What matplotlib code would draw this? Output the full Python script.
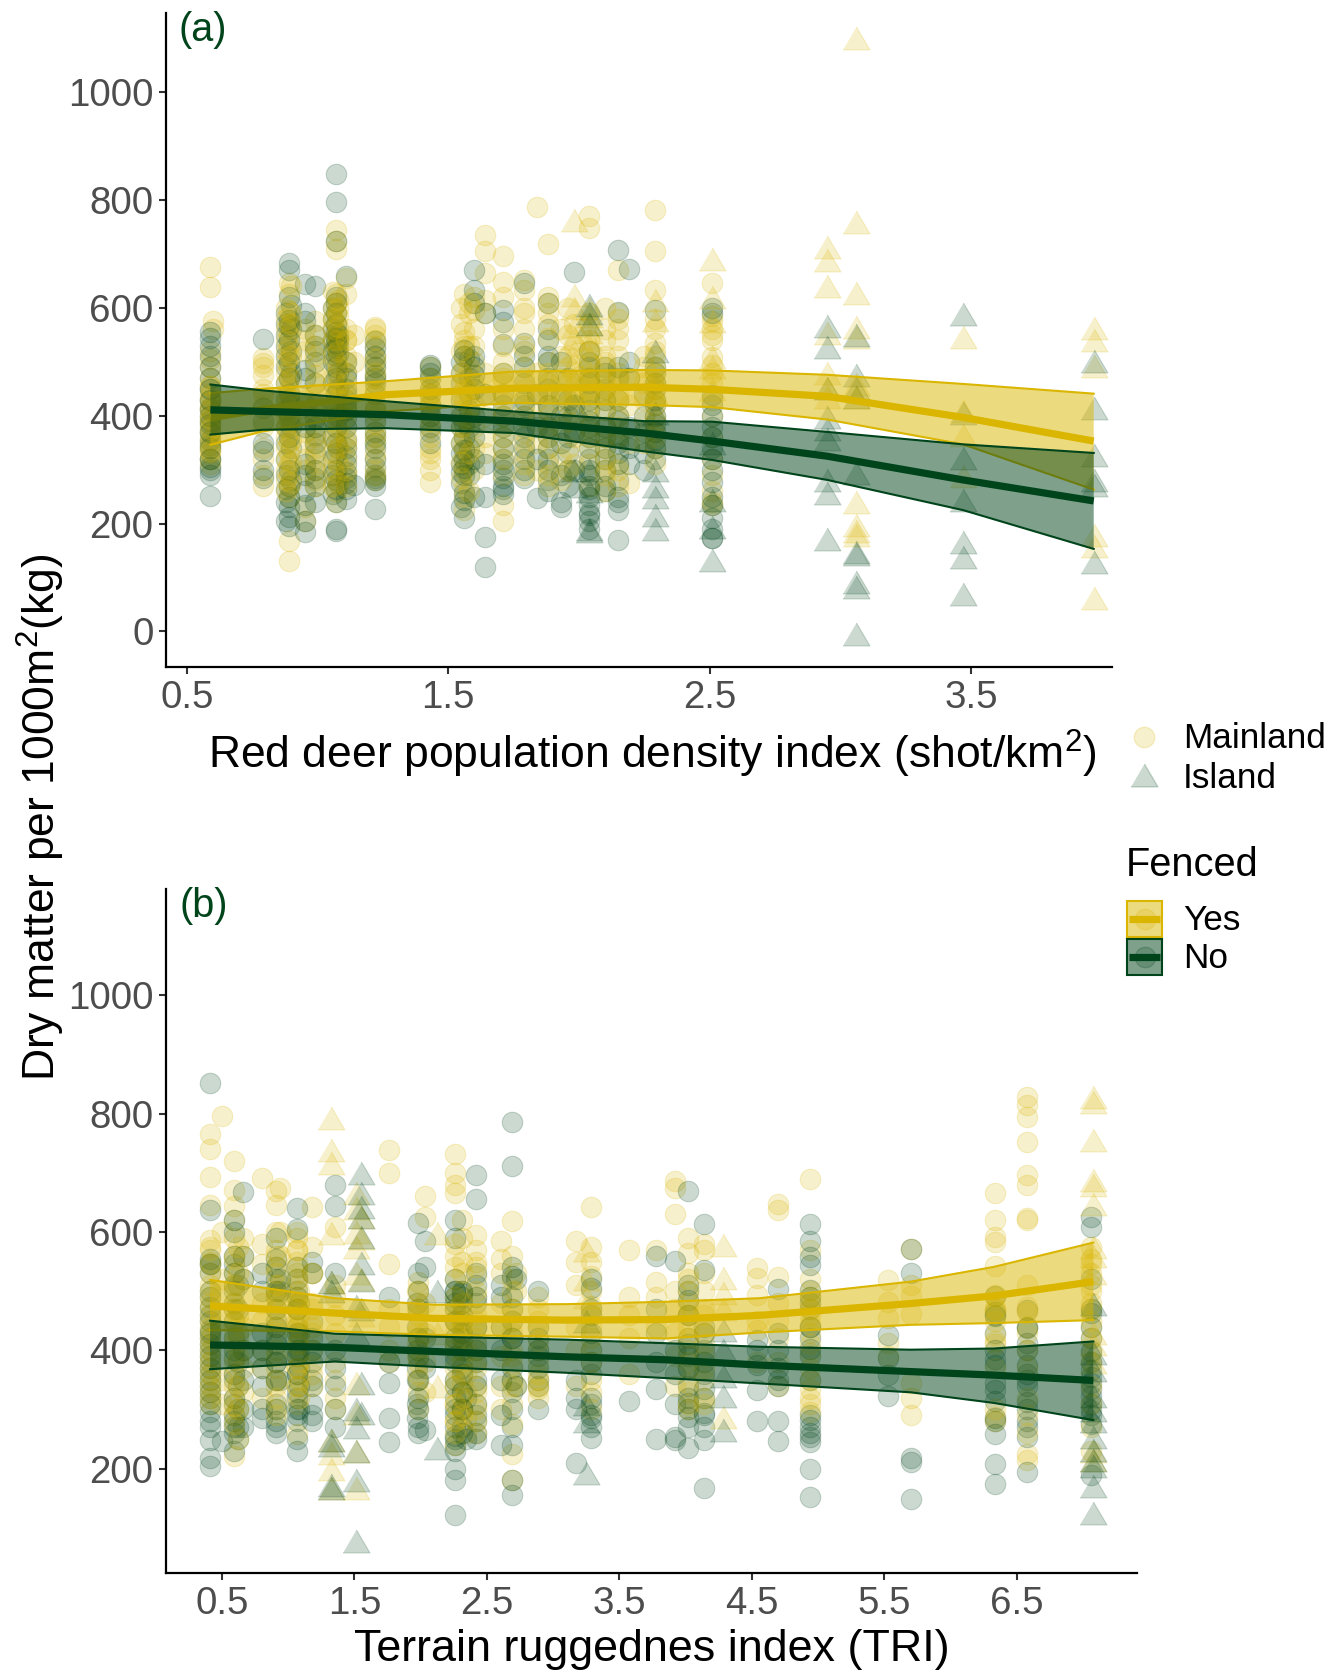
import matplotlib
matplotlib.use("Agg")
import matplotlib.pyplot as plt
from matplotlib.patches import Rectangle

YELLOW = "#DAB600"
GREEN = "#00441B"
TRI = [(-1, -0.85), (1, -0.85), (0, 0.85)]

# panel a: mainland columns
a_cols = [0.59, 0.60, 0.79, 0.89, 0.95, 0.99, 1.07, 1.11, 1.14, 1.22, 1.43, 1.56, 1.60, 1.64, 1.71, 1.79,
          1.84, 1.88, 1.93, 1.98, 2.04, 2.10, 2.15, 2.19, 2.29, 2.51]
a_main_yes = [
    [675, 638, 520, 505, 490, 470, 455, 440, 425, 410, 400, 390, 380, 365, 350, 340, 330, 320, 310],
    [575, 560],
    [507, 498, 490, 475, 450, 440, 420, 380, 340, 320, 290, 270],
    [646, 625, 594, 570, 550, 530, 510, 490, 470, 450, 430, 410, 390, 370, 350, 330, 310, 290, 270, 250, 167, 131],
    [560, 540, 520, 430, 370, 350, 320, 300, 230, 205],
    [575, 490, 460, 420, 400, 380, 360, 340, 320, 300, 280],
    [745, 725, 710, 625, 610, 590, 570, 550, 530, 500, 480, 450, 420, 400, 370, 350, 320, 290, 260, 240],
    [655, 625, 560, 540, 510, 480, 410, 380, 350, 320, 290],
    [550, 500],
    [565, 550, 530, 510, 490, 470, 450, 420, 400, 370, 350, 320, 300, 280],
    [490, 470, 440, 420, 400, 380, 340, 320, 300, 278],
    [625, 556, 541, 530, 510, 490, 470, 450, 430, 400, 380, 360, 340, 320, 300, 265, 250, 225],
    [621, 597, 560, 530, 500, 460, 420, 380, 340, 300],
    [735, 706, 665, 615, 590, 480, 440, 400, 360, 330],
    [697, 649, 621, 480, 460, 440, 410, 380, 340, 290, 235, 205],
    [652, 634, 590, 520, 490, 450, 410, 370, 330, 290],
    [788, 480, 430, 390, 350, 300],
    [718, 620, 590, 500, 460, 420, 380, 340, 310, 270],
    [560, 510, 470, 430, 380, 320, 280],
    [570, 530, 480, 440, 400, 360, 310],
    [770, 748, 520, 470, 440, 400, 360, 310, 270],
    [540, 500, 470, 430, 380, 340, 300, 260],
    [670, 590, 560, 480, 430, 380, 310, 270],
    [470, 420, 350, 275],
    [781, 706, 634, 560, 535, 520, 490, 460, 430, 400, 370, 340, 310],
    [646, 585, 575, 560, 550, 540, 509, 495, 480, 460, 430, 400, 360, 320, 290, 260, 240, 235],
]
a_main_no = [
    [556, 545, 530, 510, 490, 470, 450, 430, 415, 400, 385, 370, 355, 340, 320, 305, 290, 252],
    [],
    [542, 415, 390, 350, 335, 300, 285],
    [684, 671, 621, 578, 566, 540, 500, 470, 440, 400, 360, 300, 270, 250, 230, 213, 195],
    [645, 590, 575, 485, 470, 420, 380, 310, 290, 260, 235, 205, 185],
    [640, 550, 520, 380, 350, 300, 270, 240],
    [848, 797, 725, 620, 610, 590, 570, 555, 545, 535, 525, 510, 490, 470, 440, 410, 380, 350, 330, 300, 280, 265, 240, 190, 187],
    [660, 500, 470, 450, 430, 410, 380, 340, 310, 285, 265, 245],
    [272],
    [538, 525, 510, 490, 475, 460, 390, 360, 340, 320, 290, 280, 270, 227],
    [495, 480, 450, 400, 350],
    [522, 510, 387, 360, 337, 318, 303, 290, 257, 244, 210],
    [670, 633, 609, 510, 490, 475, 450, 400, 360, 320, 250],
    [590, 440, 310, 250, 176, 119],
    [597, 573, 533, 420, 380, 340, 310, 300, 270, 255],
    [646, 535, 510, 430, 380, 340, 300],
    [440, 380, 320, 247],
    [609, 560, 540, 510, 470, 420, 360, 300, 260],
    [500, 440, 400, 350, 290, 240, 230],
    [667, 420, 370, 300],
    [520, 490, 460, 430, 390, 340, 300, 270, 250, 220, 205, 190],
    [480, 430, 380, 320, 270],
    [708, 592, 490, 400, 350, 310, 250, 225, 170],
    [672, 500, 470, 380, 340, 310],
    [597, 480, 460, 430, 400, 370, 340],
    [600, 590, 438, 420, 400, 380, 360, 340, 320, 300, 277, 250, 235, 211, 190, 173, 173],
]
# second pass over the heavily overlapped stacks of panel a
a_more_cols = [0.59, 0.88, 0.90, 0.99, 1.06, 1.08, 1.11, 1.22, 1.43, 1.55, 1.58, 1.71, 1.79, 1.88, 1.96, 2.04, 2.10, 2.15, 2.25, 2.29]
a_more_yes = [
    [455, 435, 415, 395, 375, 355, 335],
    [600, 580, 560, 540, 520, 500, 480, 460, 440, 420, 400, 380, 360, 340, 320, 300, 280, 260],
    [640, 590, 570, 510, 470, 430, 395, 355, 315, 275],
    [550, 530, 510, 475, 440, 350, 310, 270],
    [630, 600, 580, 560, 540, 510, 470, 430, 390, 360, 330, 300, 270],
    [615, 600, 585, 565, 540, 520, 490, 460, 430, 380, 340, 310, 275],
    [540, 500, 460, 430, 400, 360, 340, 300, 270],
    [560, 540, 505, 480, 440, 410, 385, 360, 330, 290],
    [450, 430, 410, 390, 360, 330],
    [600, 570, 520, 480, 440, 410, 380, 350, 315, 285],
    [610, 590, 530, 490, 450, 420, 390, 330, 260],
    [560, 530, 500, 470, 430, 400, 360, 320],
    [600, 560, 530, 470, 440, 400, 350, 310],
    [610, 570, 545, 480, 440, 400, 360, 290],
    [600, 550, 510, 490, 460, 420, 390, 340, 300],
    [590, 570, 540, 500, 480, 450, 420, 380, 340],
    [600, 560, 510, 490, 450, 410, 360, 320, 290],
    [580, 540, 510, 470, 440, 400, 360, 300],
    [510, 490, 460, 430, 390, 350],
    [580, 510, 480, 450, 420, 390, 360],
]
a_more_no = [
    [450, 430, 410, 390, 370, 345, 320, 300],
    [590, 570, 550, 530, 510, 490, 460, 430, 410, 380, 350, 320, 290, 265, 240, 205],
    [605, 560, 520, 480, 420, 380, 340, 280],
    [530, 500, 460, 420, 395, 365, 330, 285],
    [600, 580, 560, 540, 520, 500, 460, 420, 395, 360, 320, 290, 255],
    [550, 540, 530, 515, 480, 450, 400, 340, 275],
    [480, 440, 420, 395, 355, 325, 295, 275],
    [500, 470, 440, 410, 370, 350, 305, 285],
    [490, 470, 440, 420, 380, 370],
    [500, 480, 460, 430, 400, 380, 350, 330, 310, 295, 275, 230],
    [505, 470, 440, 410, 380, 340, 310, 290],
    [480, 440, 400, 360, 320, 285, 265],
    [490, 460, 420, 400, 360, 320, 285],
    [500, 450, 410, 380, 340, 320, 280],
    [470, 430, 400, 360, 330, 300, 270],
    [500, 470, 440, 410, 380, 360, 320, 290, 265, 235, 215],
    [490, 450, 410, 360, 340, 300, 260],
    [470, 430, 390, 360, 330, 280, 240],
    [440, 400, 370, 330, 300],
    [490, 450, 420, 385, 355, 320],
]
# panel a: island columns
a_tri_cols = [1.98, 2.04, 2.29, 2.51, 2.95, 3.06, 3.47, 3.97]
a_isl_yes = [
    [763, 624, 600, 566, 545, 520, 500, 470, 440],
    [600, 585, 570, 555, 540, 530, 510, 480],
    [615, 578, 470, 440],
    [691, 621, 575, 509, 490, 450],
    [713, 689, 641, 554, 480, 451, 434],
    [1101, 760, 627, 564, 546, 459, 434, 240, 198, 186, 178],
    [546, 409, 364, 289],
    [563, 540, 492, 178, 159, 62],
]
a_isl_no = [
    [420, 300, 270],
    [606, 590, 570, 300, 260, 190, 186],
    [520, 405, 300, 270, 250, 215, 190],
    [350, 244, 194, 132],
    [567, 527, 451, 397, 376, 356, 281, 256, 171],
    [550, 476, 451, 434, 293, 148, 144, 91, 82, -5],
    [588, 405, 322, 244, 165, 138, 70],
    [502, 414, 327, 281, 271, 128],
]
a_fit_x = [0.59, 0.79, 1.26, 1.75, 2.25, 2.51, 2.95, 3.47, 3.97]
a_yes_fit = [396, 412, 439, 451, 453, 449, 436, 397, 353]
a_yes_low = [346, 371, 408, 424, 420, 416, 393, 347, 263]
a_yes_up = [442, 450, 464, 482, 485, 484, 476, 459, 441]
a_no_fit = [411, 408, 402, 390, 368, 353, 325, 281, 242]
a_no_low = [365, 374, 377, 368, 334, 318, 281, 225, 153]
a_no_up = [458, 447, 427, 408, 390, 389, 370, 347, 331]

# panel b: mainland columns
b_cols = [0.41, 0.50, 0.59, 0.66, 0.80, 0.91, 0.94, 1.07, 1.18, 1.35, 1.76, 1.98, 2.03, 2.26, 2.31, 2.34, 2.42,
          2.61, 2.69, 2.72, 2.89, 3.17, 3.29, 3.57, 3.78, 3.92, 4.02, 4.14, 4.54, 4.70, 4.94, 5.53, 5.70, 6.34, 6.58, 7.06]
b_main_yes = [
    [765, 741, 693, 645, 586, 575, 550, 530, 510, 490, 470, 450, 430, 410, 390, 370, 350, 330, 310],
    [796, 600, 520, 350, 310],
    [720, 671, 644, 620, 590, 560, 530, 480, 450, 420, 390, 360, 320, 290, 221],
    [590, 560, 520, 440, 400, 370, 330],
    [692, 580, 545, 480, 450, 400, 370, 320],
    [670, 645, 600, 570, 540, 500, 470, 440, 400, 370, 340, 300],
    [675, 600, 560, 510],
    [600, 590, 570, 550, 530, 510, 490, 470, 450, 430, 410, 390, 370, 340, 310, 258],
    [642, 575, 530, 480, 440, 400, 360],
    [608, 510, 490, 460, 430, 380, 350, 320, 300],
    [738, 700, 545, 470, 440, 400, 380],
    [515, 500, 480, 460, 440, 420, 400, 380, 350, 330, 300],
    [660, 625, 480, 430, 380, 330],
    [732, 700, 680, 666, 560, 520, 470, 430, 400, 350, 310, 280, 240],
    [620, 590, 550, 500, 450, 420, 380, 345, 300],
    [400, 360, 330, 285, 260],
    [595, 570, 550, 525, 490, 460, 420, 380, 340, 310, 260],
    [585, 555, 530, 480, 440, 390, 340, 300],
    [618, 560, 520, 470, 430, 390, 350, 310, 275, 225, 180],
    [530, 500, 340],
    [490, 470, 440, 400, 360, 340, 320],
    [585, 550, 510, 440, 400, 340],
    [642, 575, 550, 525, 500, 475, 440, 400, 350, 300],
    [570, 490, 460, 420, 360],
    [570, 515, 490, 440],
    [686, 675, 631, 500, 470, 430, 390, 340],
    [589, 564, 530, 480, 440, 400, 370, 330, 300],
    [580, 570, 530, 500, 470, 430, 390, 350, 320],
    [539, 522, 494, 450, 435, 380],
    [648, 637, 524, 480, 450, 420, 380, 340],
    [690, 570, 520, 490, 460, 430, 395, 350, 320, 310, 295],
    [518, 482, 454, 412, 390],
    [572, 510, 492, 462, 344, 319, 291],
    [665, 620, 592, 583, 542, 493, 470, 425, 415, 288, 280],
    [828, 814, 794, 752, 696, 679, 623, 620, 510, 474, 440, 225, 215],
    [575, 555, 545, 510, 470, 440, 395, 271, 229],
]
b_main_no = [
    [852, 637, 555, 545, 500, 474, 460, 429, 410, 390, 370, 350, 330, 310, 280, 249, 218, 204],
    [246],
    [620, 600, 560, 530, 500, 470, 400, 360, 320, 280, 260, 230],
    [667, 560, 520, 400, 350, 300, 270],
    [530, 500, 430, 400, 370, 340, 300, 285],
    [590, 555, 520, 500, 470, 440, 410, 380, 350, 300, 280, 270],
    [520, 500, 350],
    [640, 605, 540, 520, 490, 470, 430, 400, 360, 330, 300, 290, 250, 230],
    [550, 530, 420, 380, 340, 290, 280],
    [680, 644, 530, 400, 370, 340, 300, 270],
    [490, 380, 345, 285, 245],
    [615, 530, 500, 470, 420, 390, 350, 320, 300, 270, 260],
    [585, 540, 420, 370, 265],
    [620, 590, 520, 500, 480, 450, 420, 390, 350, 300, 270, 250, 230, 200, 180, 122],
    [500, 497, 480, 460, 430, 400, 360, 330, 300, 260],
    [320, 250],
    [696, 655, 530, 510, 490, 440, 400, 350, 310, 280, 250],
    [510, 490, 440, 400, 350, 290, 240],
    [785, 712, 540, 525, 490, 450, 420, 350, 300, 240, 180, 155],
    [520, 340],
    [500, 420, 400, 370, 300],
    [350, 320, 300, 210],
    [520, 505, 470, 430, 380, 320, 290, 270, 252],
    [315],
    [560, 470, 430, 380, 335, 250],
    [551, 400, 360, 310, 254, 249],
    [670, 510, 485, 460, 410, 370, 320, 311, 288, 235],
    [614, 536, 430, 380, 335, 294, 271, 249, 167],
    [417, 401, 375, 333, 281],
    [503, 430, 400, 370, 350, 339, 280, 246],
    [613, 584, 558, 544, 502, 490, 480, 440, 403, 283, 270, 254, 245, 200, 152],
    [426, 387, 358, 322],
    [572, 530, 218, 212, 149],
    [491, 465, 458, 401, 375, 333, 285, 259, 207, 174],
    [468, 437, 412, 375, 350, 313, 280, 254, 195],
    [626, 609, 520, 463, 440, 398, 367, 344, 322, 299, 190],
]
# second pass over the heavily overlapped stacks of panel b
b_more_cols = [0.41, 0.59, 0.62, 0.91, 1.07, 1.08, 1.18, 1.97, 2.26, 2.31, 2.42, 2.69, 2.89, 3.29, 4.02, 4.14, 4.94, 6.34, 6.58, 7.06]
b_more_yes = [
    [570, 545, 500, 480, 460, 440, 420, 400, 380, 360, 340, 320],
    [555, 510, 470, 435, 410, 375, 340, 305, 275],
    [575, 530, 460, 420, 390, 340, 300, 250],
    [560, 530, 510, 490, 430, 390, 350, 320, 290],
    [570, 540, 520, 480, 440, 410, 370, 340],
    [500, 460, 420, 380, 350, 320],
    [530, 470, 430, 375, 340],
    [500, 470, 430, 410, 390, 360],
    [580, 540, 490, 450, 410, 370, 340, 310, 280, 260],
    [530, 480, 440, 400, 360, 320, 290],
    [540, 500, 450, 400, 370, 330, 300, 280],
    [500, 450, 400, 375, 340],
    [450, 415, 380, 350, 335],
    [460, 420, 380, 330],
    [520, 500, 460, 420, 380, 345, 310],
    [460, 410, 370, 310],
    [500, 470, 445, 410, 370, 335],
    [490, 470, 450, 410, 370, 300],
    [465, 430, 400, 370, 320, 290, 260],
    [530, 500, 480, 450, 420, 380, 340, 310],
]
b_more_no = [
    [545, 530, 490, 450, 435, 420, 400, 380, 360, 340, 320, 295, 270],
    [545, 510, 480, 450, 420, 385, 350, 310, 290, 270],
    [510, 470, 430, 380, 340, 300, 270, 250],
    [540, 490, 450, 420, 380, 350, 310, 260],
    [500, 470, 440, 390, 360, 320, 280],
    [480, 430, 400, 370, 340, 300],
    [450, 400, 350, 310],
    [480, 440, 400, 370, 350, 310, 285],
    [500, 490, 470, 450, 410, 380, 340, 320, 290, 255, 240],
    [490, 450, 420, 370, 330, 300, 270],
    [480, 440, 410, 380, 340, 290, 260],
    [470, 420, 370, 330, 270],
    [440, 390, 350, 340],
    [460, 400, 360, 310, 285],
    [500, 460, 420, 390, 340, 300, 270],
    [440, 400, 360, 320, 290],
    [470, 440, 420, 390, 350, 290, 260],
    [460, 430, 385, 345, 315, 280],
    [440, 400, 360, 340, 300, 270],
    [470, 420, 380, 355, 335, 310, 290, 275],
]
# panel b: island columns
b_tri_cols = [1.32, 1.51, 1.55, 2.12, 3.25, 4.28, 7.08]
b_isl_yes = [
    [792, 738, 716, 598, 516, 249, 226, 200, 167],
    [665, 640, 600, 575, 530, 344, 294, 229, 167],
    [626, 590, 520, 460],
    [598, 430, 340],
    [569, 520, 490],
    [578, 522, 496, 470, 288],
    [828, 820, 755, 688, 679, 648, 575, 560, 530, 430, 410, 380, 229, 215],
]
b_isl_no = [
    [516, 500, 249, 240, 173, 167],
    [475, 430, 300, 270, 229, 181, 77],
    [699, 665, 643, 626, 592, 547, 519, 470, 344, 294],
    [500, 235],
    [450, 310, 280, 193],
    [434, 401, 356, 322, 266],
    [479, 395, 367, 322, 299, 280, 254, 232, 215, 204, 170, 125],
]
b_fit_x = [0.41, 1.35, 2.10, 3.10, 3.85, 4.56, 5.70, 6.33, 7.08]
b_yes_fit = [475, 463, 454, 451, 452, 459, 479, 492, 516]
b_yes_low = [434, 432, 426, 423, 420, 430, 443, 446, 451]
b_yes_up = [519, 488, 477, 478, 482, 488, 516, 541, 582]
b_no_fit = [409, 405, 398, 389, 384, 375, 364, 358, 349]
b_no_low = [368, 381, 372, 362, 353, 344, 329, 311, 282]
b_no_up = [450, 428, 423, 418, 412, 406, 401, 403, 415]

W, H = 1344, 1672
plt.rcParams["font.family"] = ["Liberation Sans", "DejaVu Sans"]
plt.rcParams["mathtext.default"] = "regular"
fig = plt.figure(figsize=(W / 100, H / 100), dpi=100)


def make_axes(left, top, right, bottom):
    return fig.add_axes([left / W, 1 - bottom / H, (right - left) / W, (bottom - top) / H])


def put_points(ax, cols, vals, color, marker, size):
    for x, ys in zip(cols, vals):
        ax.scatter([x] * len(ys), ys, s=size, marker=marker, color=color, alpha=0.2, linewidths=0.8, zorder=2)


def put_fit(ax, x, low, up, fit, color):
    ax.fill_between(x, low, up, facecolor=color, alpha=0.5, linewidth=0, zorder=3)
    ax.plot(x, low, color=color, lw=1.5, zorder=3)
    ax.plot(x, up, color=color, lw=1.5, zorder=3)
    ax.plot(x, fit, color=color, lw=5.2, solid_capstyle="butt", zorder=3)


def style(ax, xlim, ylim, xticks, yticks, tag, tag_y):
    ax.set_xlim(xlim)
    ax.set_ylim(ylim)
    ax.set_xticks(xticks)
    ax.set_xticklabels([str(t) for t in xticks])
    ax.set_yticks(yticks)
    ax.tick_params(labelsize=27.7, colors="#4D4D4D", length=5, width=1.5, color="#333333", pad=4)
    ax.spines["top"].set_visible(False)
    ax.spines["right"].set_visible(False)
    ax.spines["left"].set_linewidth(1.6)
    ax.spines["bottom"].set_linewidth(1.6)
    ax.text(0.0135, tag_y, tag, transform=ax.transAxes, fontsize=28.5, color=GREEN, ha="left", va="center")


# green stacks go in between the yellow ones so the overlaps mix to olive
ax1 = make_axes(166, 13, 1112, 667)
put_points(ax1, a_more_cols, a_more_no, GREEN, "o", 218)
put_points(ax1, a_cols, a_main_yes, YELLOW, "o", 218)
put_points(ax1, a_cols, a_main_no, GREEN, "o", 218)
put_points(ax1, a_more_cols, a_more_yes, YELLOW, "o", 218)
put_points(ax1, a_tri_cols, a_isl_yes, YELLOW, TRI, 377)
put_points(ax1, a_tri_cols, a_isl_no, GREEN, TRI, 377)
put_fit(ax1, a_fit_x, a_yes_low, a_yes_up, a_yes_fit, YELLOW)
put_fit(ax1, a_fit_x, a_no_low, a_no_up, a_no_fit, GREEN)
style(ax1, (0.42, 4.04), (-66, 1147), [0.5, 1.5, 2.5, 3.5], [0, 200, 400, 600, 800, 1000], "(a)", 0.974)

ax2 = make_axes(166, 889, 1137, 1573)
put_points(ax2, b_more_cols, b_more_no, GREEN, "o", 218)
put_points(ax2, b_cols, b_main_yes, YELLOW, "o", 218)
put_points(ax2, b_cols, b_main_no, GREEN, "o", 218)
put_points(ax2, b_more_cols, b_more_yes, YELLOW, "o", 218)
put_points(ax2, b_tri_cols, b_isl_yes, YELLOW, TRI, 377)
put_points(ax2, b_tri_cols, b_isl_no, GREEN, TRI, 377)
put_fit(ax2, b_fit_x, b_yes_low, b_yes_up, b_yes_fit, YELLOW)
put_fit(ax2, b_fit_x, b_no_low, b_no_up, b_no_fit, GREEN)
style(ax2, (0.077, 7.41), (23.6, 1179.6), [0.5, 1.5, 2.5, 3.5, 4.5, 5.5, 6.5], [200, 400, 600, 800, 1000], "(b)", 0.975)

fig.text(652 / W, 1 - 754 / H, "Red deer population density index (shot/km$^2$)", fontsize=32, ha="center", va="center")
fig.text(652 / W, 1 - 1650 / H, "Terrain ruggednes index (TRI)", fontsize=32.3, ha="center", va="center")
fig.text(41 / W, 1 - 817 / H, "Dry matter per 1000m$^2$(kg)", fontsize=32, rotation=90, ha="center", va="center")

# legends, drawn on a full figure overlay
ov = fig.add_axes([0, 0, 1, 1], facecolor="none")
ov.set_xlim(0, W)
ov.set_ylim(H, 0)
ov.axis("off")
ov.scatter([1144], [737], s=218, marker="o", color=YELLOW, alpha=0.2, linewidths=1)
ov.scatter([1144], [775], s=377, marker=TRI, color=GREEN, alpha=0.2, linewidths=1)
ov.text(1183, 739, "Mainland", fontsize=25.3, ha="left", va="center")
ov.text(1183, 778, "Island", fontsize=25.3, ha="left", va="center")
ov.text(1126, 865, "Fenced", fontsize=28.6, ha="left", va="center")
for y, c, label in [(919, YELLOW, "Yes"), (957, GREEN, "No")]:
    ov.add_patch(Rectangle((1127, y - 18), 35, 36, facecolor=c, alpha=0.5, lw=0))
    ov.add_patch(Rectangle((1127, y - 18), 35, 36, facecolor="none", edgecolor=c, lw=1.5))
    ov.scatter([1144.5], [y], s=218, marker="o", color=c, alpha=0.2, linewidths=1)
    ov.plot([1129, 1160], [y, y], color=c, lw=5.2, solid_capstyle="butt")
    ov.text(1183, y + 1, label, fontsize=25.3, ha="left", va="center")

fig.savefig("out.png", dpi=100, facecolor="white")
